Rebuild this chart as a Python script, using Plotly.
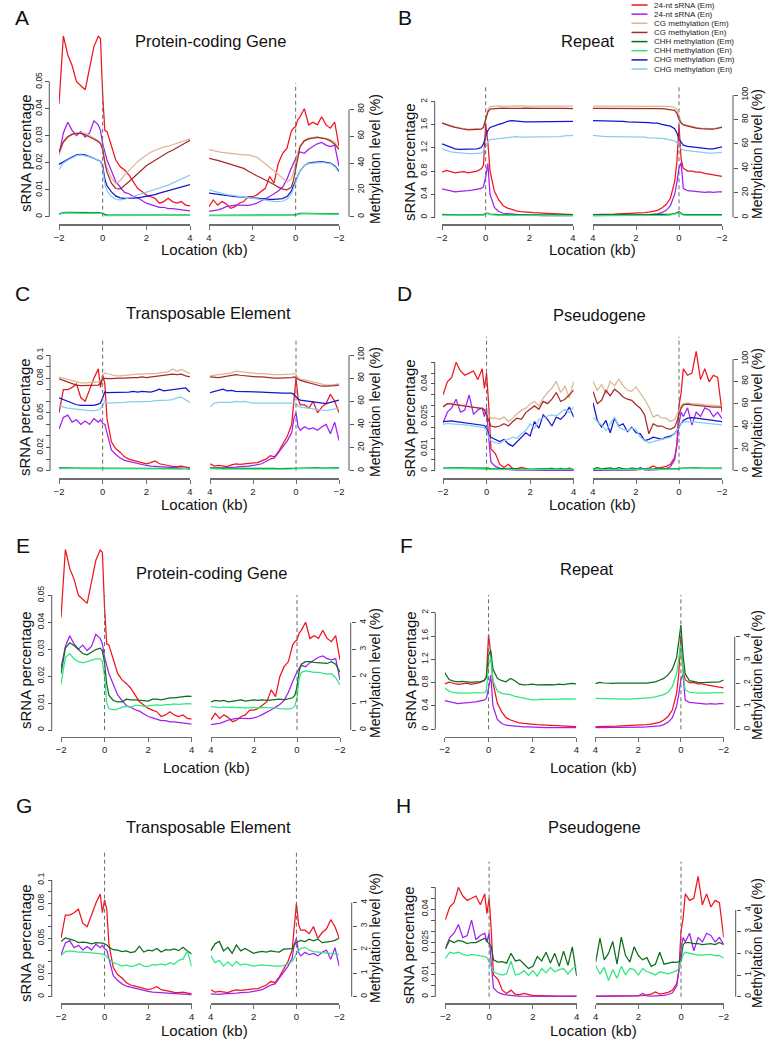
import plotly.graph_objects as go

W, H = 766, 1045
FONT = "Liberation Sans, Arial, Helvetica, sans-serif"

# ---------------- x grids (kb) ----------------
XL = [-2, -1.8, -1.6, -1.4, -1.2, -1.0, -0.8, -0.6, -0.4, -0.2, -0.1, 0, 0.1, 0.2, 0.4, 0.6, 0.8, 1.0,
      1.2, 1.4, 1.6, 1.8, 2.0, 2.2, 2.4, 2.6, 2.8, 3.0, 3.2, 3.4, 3.6, 3.8, 4.0]
XR = [4.0, 3.8, 3.6, 3.4, 3.2, 3.0, 2.8, 2.6, 2.4, 2.2, 2.0, 1.8, 1.6, 1.4, 1.2, 1.0, 0.8, 0.6, 0.4,
      0.2, 0.1, 0, -0.1, -0.2, -0.4, -0.6, -0.8, -1.0, -1.2, -1.4, -1.6, -1.8, -2.0]

# ---------------- Protein-coding gene ----------------
PC_SRNA_EM_L = [0.0418, 0.067, 0.060, 0.056, 0.050, 0.0485, 0.047, 0.055, 0.063, 0.0668, 0.066, 0.045, 0.032, 0.0315, 0.026, 0.021, 0.0186, 0.0173, 0.0155, 0.013, 0.0105, 0.0093, 0.008, 0.0074, 0.0068, 0.005, 0.0056, 0.0068, 0.0056, 0.005, 0.0056, 0.0043, 0.004]
PC_SRNA_EM_R = [0.0037, 0.0062, 0.0043, 0.0056, 0.0047, 0.0031, 0.0037, 0.005, 0.0056, 0.0074, 0.0074, 0.008, 0.0093, 0.0105, 0.0149, 0.0124, 0.0198, 0.0235, 0.0254, 0.0316, 0.0328, 0.0334, 0.036, 0.037, 0.040, 0.034, 0.035, 0.034, 0.037, 0.034, 0.0328, 0.035, 0.026]
PC_SRNA_EN_L = [0.023, 0.031, 0.035, 0.032, 0.030, 0.0315, 0.0295, 0.031, 0.0355, 0.034, 0.032, 0.027, 0.024, 0.021, 0.017, 0.013, 0.011, 0.009, 0.0085, 0.0075, 0.007, 0.006, 0.005, 0.0045, 0.004, 0.0035, 0.0035, 0.003, 0.003, 0.0028, 0.0028, 0.0024, 0.0022]
PC_SRNA_EN_R = [0.002, 0.0022, 0.0025, 0.003, 0.0037, 0.004, 0.0043, 0.0043, 0.0043, 0.0042, 0.0045, 0.005, 0.0058, 0.0065, 0.0075, 0.0085, 0.0095, 0.011, 0.014, 0.018, 0.020, 0.0215, 0.023, 0.024, 0.0235, 0.025, 0.026, 0.027, 0.0275, 0.0265, 0.026, 0.0265, 0.0186]
PC_CG_EM_L = [46, 55, 59, 61, 62, 62.5, 62, 60.5, 58.5, 56.5, 55, 52, 42, 36, 29, 24.5, 27, 31, 34.5, 38, 41, 43.5, 46, 48, 49.5, 51, 52, 52.5, 53.5, 54.5, 56, 57, 58]
PC_CG_EM_R = [50, 49, 48.5, 48, 47.5, 47, 46.5, 46.5, 46, 46, 45.5, 44.5, 42, 39.5, 37, 34, 31.5, 28.5, 26, 28, 33, 40, 48, 53, 57, 58.5, 59, 59.5, 59, 58.5, 57.5, 55.5, 51]
PC_CG_EN_L = [48, 56, 59.5, 61.5, 62, 62, 61, 59.5, 58, 56, 54.5, 50, 40, 33, 25, 21, 20.5, 23, 26, 29, 32, 35, 38, 40, 42, 44.5, 46.5, 48, 49.5, 51.5, 53.5, 55.5, 57]
PC_CG_EN_R = [43.5, 43, 42, 41, 40, 39.5, 38.5, 37.5, 36, 34, 32, 30.5, 29, 27.5, 25.5, 24, 22, 20.5, 20, 22, 27, 35, 45, 52, 56.5, 58, 58.5, 59, 58.5, 58, 56.5, 54, 50]
PC_CHG_EM_L = [39, 41, 42.5, 44.5, 46, 46.5, 46, 45, 43.5, 42, 41.5, 38, 28, 23, 18.5, 15.5, 14, 13.7, 13.7, 13.8, 14, 14.5, 15, 15.8, 16.5, 17.5, 18.5, 19.5, 20.5, 21.5, 22.5, 23.5, 24]
PC_CHG_EM_R = [17.5, 17, 16.5, 16, 15.7, 15.3, 15, 14.8, 14.5, 14.2, 14, 13.8, 13.5, 13.2, 13, 13, 13, 13.5, 15, 19, 23, 27, 31, 34, 38, 40, 40.5, 41, 41, 40.5, 40, 38, 34]
PC_CHG_EN_L = [35, 40, 42, 44, 45.5, 46, 45.5, 44.5, 43.5, 42.5, 41.5, 36, 24, 19, 15, 13, 12.5, 13, 14, 15, 16, 17, 18, 19, 20, 21, 22.5, 23.5, 25, 26.5, 28, 29.5, 31]
PC_CHG_EN_R = [20, 19, 18, 17, 16.5, 16, 15.5, 15, 14.5, 14, 13.5, 13, 12.5, 12, 11.8, 11.5, 11.2, 11.5, 13, 17, 21, 26, 30, 34, 38, 39.5, 40, 40.5, 40.5, 40, 39.5, 37.5, 33]
PC_CHH_EM_L = [2.1, 3.05, 3.25, 3.15, 3.0, 2.85, 2.8, 2.9, 3.0, 3.05, 2.95, 2.5, 1.7, 1.3, 1.1, 1.05, 1.05, 1.15, 1.12, 1.12, 1.1, 1.1, 1.08, 1.15, 1.15, 1.12, 1.17, 1.2, 1.2, 1.22, 1.22, 1.26, 1.25]
PC_CHH_EM_R = [1.05, 1.1, 1.08, 1.1, 1.05, 1.07, 1.1, 1.12, 1.08, 1.1, 1.12, 1.1, 1.12, 1.1, 1.12, 1.12, 1.15, 1.12, 1.15, 1.2, 1.3, 1.6, 2.2, 2.45, 2.55, 2.55, 2.52, 2.5, 2.5, 2.48, 2.55, 2.45, 2.15]
PC_CHH_EN_L = [1.7, 2.7, 2.85, 2.65, 2.55, 2.5, 2.55, 2.6, 2.65, 2.65, 2.55, 2.0, 1.0, 0.8, 0.75, 0.78, 0.85, 0.88, 0.85, 0.92, 0.92, 0.88, 0.9, 0.92, 0.94, 0.92, 0.95, 0.95, 0.97, 0.96, 0.98, 0.98, 0.97]
PC_CHH_EN_R = [0.87, 0.85, 0.83, 0.86, 0.84, 0.85, 0.83, 0.84, 0.82, 0.83, 0.84, 0.82, 0.84, 0.83, 0.83, 0.82, 0.8, 0.78, 0.78, 0.82, 0.9, 1.2, 1.9, 2.15, 2.2, 2.18, 2.15, 2.15, 2.12, 2.08, 2.1, 1.95, 1.68]

# ---------------- Repeat ----------------
RP_SRNA_EM_L = [0.78, 0.81, 0.79, 0.77, 0.78, 0.79, 0.77, 0.78, 0.8, 0.84, 0.9, 1.62, 1.3, 0.8, 0.45, 0.3, 0.2, 0.16, 0.13, 0.11, 0.1, 0.09, 0.085, 0.08, 0.075, 0.07, 0.065, 0.06, 0.058, 0.055, 0.05, 0.048, 0.045]
RP_SRNA_EM_R = [0.045, 0.045, 0.048, 0.05, 0.052, 0.055, 0.06, 0.062, 0.065, 0.068, 0.07, 0.075, 0.08, 0.09, 0.1, 0.12, 0.16, 0.22, 0.33, 0.62, 0.95, 1.6, 1.0, 0.85, 0.8, 0.8, 0.78, 0.78, 0.76, 0.75, 0.73, 0.72, 0.71]
RP_SRNA_EN_L = [0.49, 0.47, 0.46, 0.44, 0.45, 0.45, 0.46, 0.47, 0.48, 0.5, 0.53, 0.7, 0.93, 0.4, 0.17, 0.1, 0.07, 0.06, 0.05, 0.045, 0.04, 0.04, 0.035, 0.035, 0.03, 0.03, 0.03, 0.03, 0.028, 0.028, 0.027, 0.027, 0.027]
RP_SRNA_EN_R = [0.027, 0.027, 0.028, 0.028, 0.03, 0.03, 0.03, 0.032, 0.033, 0.035, 0.035, 0.038, 0.04, 0.045, 0.05, 0.06, 0.08, 0.12, 0.2, 0.4, 0.6, 0.85, 0.95, 0.5, 0.46, 0.45, 0.45, 0.44, 0.43, 0.44, 0.43, 0.44, 0.44]
RP_CG_EM_L = [77.5, 76, 75, 74, 73, 72.5, 72, 72, 72, 72.5, 74, 80, 88, 90.5, 91, 91.2, 91, 90.8, 91, 91.2, 91, 91, 91.2, 91, 91, 90.8, 91, 91, 91, 91.2, 91, 91, 91]
RP_CG_EM_R = [91, 91, 91.2, 91, 91, 90.8, 91, 91, 91.2, 91, 91, 91, 90.8, 91, 91, 91, 91, 90.8, 90.5, 90, 88, 82, 78, 76, 75, 74, 73.5, 73, 72.5, 72.5, 72.5, 73, 74]
RP_CG_EN_L = [77, 75.5, 74.5, 73.5, 72.5, 72, 71.5, 71.5, 71.5, 72, 73.5, 79, 86, 88.5, 89, 89, 89.2, 89, 88.8, 89, 89, 89.2, 89, 89, 88.8, 89, 89, 89.2, 89, 89, 89, 89, 88.8]
RP_CG_EN_R = [89, 89, 89, 89.2, 89, 89, 88.8, 89, 89, 89, 89.2, 89, 89, 88.8, 89, 89, 88.8, 88.5, 88, 87.5, 85, 80, 77, 75.5, 74.5, 73.5, 73, 72.5, 72, 72, 72, 72.5, 73.5]
RP_CHG_EM_L = [60, 58.5, 57, 56, 55.5, 55.5, 55.5, 55.5, 56, 57, 60, 66, 71, 73.5, 75, 76, 77, 78.5, 79, 78.5, 78.5, 78, 78, 78, 78, 78.5, 78.5, 78.5, 78.5, 78, 78.5, 78.5, 78.5]
RP_CHG_EM_R = [79, 79, 79, 78.5, 78.5, 78.5, 78.5, 78.5, 78, 78, 77.5, 78, 78, 77.5, 77, 77, 76, 75.5, 74.5, 72.5, 69, 64, 61, 59, 58, 57.5, 57, 56.5, 56, 56, 56, 56.5, 57.5]
RP_CHG_EN_L = [56, 54.5, 53.5, 53, 52.5, 52.3, 52, 52, 52, 52.5, 54, 58, 62, 63.5, 64, 64.5, 65, 65.5, 66, 66, 65.5, 65.5, 65.5, 65.5, 65.5, 66, 66, 66, 66, 66, 66.5, 67, 67]
RP_CHG_EN_R = [67, 66.5, 66.5, 66, 66, 66, 66, 65.5, 65.5, 65.5, 65.5, 65.5, 65.5, 65, 65, 65, 64.5, 64, 63.5, 62.5, 61, 58, 56, 55, 54.5, 54, 53.5, 53, 52.5, 52.5, 52.5, 52.5, 53]
RP_CHH_EM_L = [2.45, 2.15, 2.08, 2.05, 2.07, 2.05, 2.03, 2.05, 2.05, 2.1, 2.25, 3.2, 3.4, 2.6, 2.2, 2.1, 2.05, 2.2, 2.1, 1.95, 1.92, 1.93, 1.95, 1.92, 1.93, 1.95, 1.93, 1.92, 1.95, 1.93, 1.95, 1.98, 1.96]
RP_CHH_EM_R = [1.97, 2.03, 2.0, 1.98, 1.98, 1.99, 1.98, 1.98, 1.99, 1.99, 1.98, 2.0, 2.0, 2.02, 2.05, 2.12, 2.2, 2.35, 2.6, 3.1, 3.7, 4.5, 3.2, 2.4, 2.1, 2.05, 2.03, 2.02, 2.02, 2.03, 2.02, 2.05, 2.13]
RP_CHH_EN_L = [1.78, 1.65, 1.58, 1.56, 1.56, 1.56, 1.56, 1.56, 1.56, 1.58, 1.65, 2.8, 3.1, 2.1, 1.65, 1.55, 1.52, 1.5, 1.42, 1.38, 1.33, 1.28, 1.27, 1.27, 1.3, 1.29, 1.3, 1.31, 1.3, 1.3, 1.31, 1.3, 1.31]
RP_CHH_EN_R = [1.34, 1.33, 1.32, 1.31, 1.31, 1.3, 1.31, 1.3, 1.3, 1.31, 1.32, 1.33, 1.35, 1.37, 1.4, 1.45, 1.5, 1.6, 1.85, 2.4, 3.1, 3.7, 2.4, 1.7, 1.6, 1.57, 1.56, 1.56, 1.56, 1.56, 1.57, 1.58, 1.58]

# ---------------- Transposable element ----------------
TE_SRNA_EM_L = [0.05, 0.07, 0.07, 0.072, 0.075, 0.063, 0.06, 0.07, 0.08, 0.088, 0.072, 0.083, 0.075, 0.045, 0.025, 0.019, 0.016, 0.012, 0.01, 0.009, 0.008, 0.0065, 0.006, 0.007, 0.0085, 0.006, 0.005, 0.0045, 0.0038, 0.0035, 0.004, 0.003, 0.0025]
TE_SRNA_EM_R = [0.006, 0.004, 0.0045, 0.0038, 0.0035, 0.005, 0.0058, 0.0055, 0.006, 0.0065, 0.007, 0.007, 0.0085, 0.01, 0.013, 0.012, 0.017, 0.024, 0.03, 0.04, 0.06, 0.08, 0.062, 0.057, 0.057, 0.054, 0.06, 0.05, 0.055, 0.058, 0.066, 0.06, 0.05]
TE_SRNA_EN_L = [0.036, 0.046, 0.048, 0.042, 0.044, 0.04, 0.043, 0.04, 0.045, 0.042, 0.044, 0.041, 0.04, 0.032, 0.018, 0.014, 0.011, 0.009, 0.008, 0.007, 0.006, 0.0055, 0.0045, 0.004, 0.0038, 0.0035, 0.003, 0.003, 0.0025, 0.0025, 0.0022, 0.002, 0.0015]
TE_SRNA_EN_R = [0.0025, 0.002, 0.002, 0.0025, 0.0025, 0.0028, 0.003, 0.0035, 0.0035, 0.004, 0.0045, 0.005, 0.006, 0.008, 0.01, 0.011, 0.016, 0.02, 0.026, 0.033, 0.045, 0.05, 0.038, 0.035, 0.038, 0.036, 0.037, 0.035, 0.038, 0.04, 0.032, 0.042, 0.026]
TE_CG_EM_L = [81, 80, 78.5, 77.5, 76.5, 76, 76, 76, 76.5, 77, 78, 82, 84.5, 84, 83, 82, 82, 82.5, 83, 83, 83.5, 83.5, 84, 84, 84, 84.5, 85, 85.5, 88, 86, 87.5, 86, 84]
TE_CG_EM_R = [82, 82.5, 83, 83.5, 84, 84.5, 86, 85.5, 85, 84.5, 84, 84, 84, 83.5, 83, 83, 83, 83, 83, 83.5, 84, 83, 80.5, 79, 78.5, 77.5, 77, 75.5, 74.5, 74, 74, 74.5, 75]
TE_CG_EN_L = [79.5, 78, 76.5, 75, 74, 73.5, 73.5, 73.5, 73.5, 74, 75.5, 79, 80, 79.5, 79.5, 80, 80, 80, 80.5, 80.5, 80.5, 81, 80.5, 81, 81, 81.5, 82, 82.5, 83.5, 83, 83.5, 82, 81]
TE_CG_EN_R = [81, 80.5, 80.5, 81, 81.5, 82, 83, 82.5, 82, 81.5, 81, 81, 81, 80.5, 80.5, 80, 80, 80, 80, 80.5, 81, 80.5, 79, 78, 77, 76, 75.5, 74, 73, 73, 73, 73.5, 74]
TE_CHG_EM_L = [63, 61.5, 60, 58.5, 57, 56.5, 56.5, 56.5, 56.5, 57.5, 58.5, 63, 68, 67.5, 67.5, 67.5, 67.5, 68, 68, 68.5, 68, 68.5, 68.5, 68, 69, 70.5, 69, 69.5, 70, 70.5, 71, 71.5, 68]
TE_CHG_EM_R = [67.5, 68.5, 69.5, 70.5, 69, 69.5, 68.5, 68.5, 68.3, 68.3, 68, 68, 68, 67.8, 67.5, 67.5, 67, 67, 67, 67, 66, 64, 62, 61, 60.5, 60, 59.5, 58.5, 58, 58, 59, 60, 61]
TE_CHG_EN_L = [57, 55, 54, 53.5, 53, 52.5, 52, 52, 52, 52.5, 53.5, 57, 60.5, 58.5, 58.5, 59, 59, 59, 59.5, 59.5, 59.5, 60, 60, 60, 60.5, 60.5, 61, 61, 61.5, 63, 63.5, 61, 59]
TE_CHG_EN_R = [55, 58.5, 59, 59, 58.5, 59, 60, 59.5, 60, 59, 58.5, 58.5, 58.5, 58.5, 58, 58, 58, 58, 58, 58, 58.5, 58.5, 56, 55, 54.5, 54, 53.5, 52.5, 52, 52, 52.5, 53.5, 54]
TE_CHH_EM_L = [2.35, 2.5, 2.45, 2.4, 2.3, 2.32, 2.3, 2.25, 2.3, 2.3, 2.28, 2.25, 2.2, 2.1, 2.0, 1.98, 1.92, 1.95, 1.88, 1.92, 2.15, 1.9, 1.98, 1.95, 2.05, 1.9, 2.0, 1.98, 2.03, 1.96, 2.1, 1.95, 1.82]
TE_CHH_EM_R = [1.95, 2.25, 2.35, 1.95, 2.1, 1.85, 2.2, 1.95, 2.05, 1.95, 1.85, 1.9, 1.93, 1.9, 1.95, 1.92, 1.9, 2.02, 2.03, 2.05, 2.2, 2.3, 2.35, 2.4, 2.35, 2.45, 2.38, 2.45, 2.3, 2.32, 2.35, 2.4, 2.5]
TE_CHH_EN_L = [1.75, 1.92, 1.95, 1.92, 1.9, 1.9, 1.88, 1.87, 1.86, 1.85, 1.82, 1.78, 1.7, 1.6, 1.45, 1.38, 1.3, 1.35, 1.28, 1.32, 1.4, 1.3, 1.28, 1.36, 1.34, 1.4, 1.35, 1.45, 1.38, 1.55, 1.6, 1.95, 1.28]
TE_CHH_EN_R = [1.75, 1.45, 1.55, 1.3, 1.48, 1.3, 1.5, 1.35, 1.4, 1.35, 1.3, 1.33, 1.35, 1.33, 1.3, 1.3, 1.3, 1.32, 1.4, 1.5, 1.65, 1.85, 1.95, 2.05, 2.1, 1.98, 1.92, 1.9, 1.88, 1.86, 1.85, 1.84, 1.8]

# ---------------- Pseudogene ----------------
PS_SRNA_EM_L = [0.035, 0.041, 0.043, 0.05, 0.046, 0.044, 0.045, 0.046, 0.042, 0.047, 0.038, 0.045, 0.03, 0.01, 0.008, 0.003, 0.0015, 0.003, 0.001, 0.001, 0.0015, 0.001, 0.0005, 0.0005, 0.0004, 0.0004, 0.0004, 0.0003, 0.0003, 0.0003, 0.0003, 0.0003, 0.0003]
PS_SRNA_EM_R = [0.0003, 0.0003, 0.0003, 0.0003, 0.0003, 0.0003, 0.0003, 0.0003, 0.0003, 0.0004, 0.0004, 0.0005, 0.0008, 0.0012, 0.0022, 0.0012, 0.0015, 0.002, 0.003, 0.006, 0.012, 0.03, 0.036, 0.047, 0.044, 0.045, 0.055, 0.042, 0.047, 0.041, 0.044, 0.043, 0.027]
PS_SRNA_EN_L = [0.022, 0.027, 0.029, 0.033, 0.027, 0.028, 0.035, 0.026, 0.028, 0.029, 0.025, 0.029, 0.015, 0.004, 0.002, 0.0012, 0.0008, 0.0005, 0.0004, 0.0003, 0.0003, 0.0003, 0.0003, 0.0003, 0.0003, 0.0003, 0.0003, 0.0003, 0.0002, 0.0002, 0.0002, 0.0002, 0.0002]
PS_SRNA_EN_R = [0.0002, 0.0002, 0.0002, 0.0002, 0.0002, 0.0003, 0.0003, 0.0003, 0.0003, 0.0003, 0.0004, 0.0015, 0.0004, 0.0003, 0.0003, 0.0004, 0.0006, 0.001, 0.0018, 0.005, 0.012, 0.022, 0.027, 0.025, 0.029, 0.021, 0.027, 0.025, 0.029, 0.028, 0.025, 0.027, 0.024]
PS_CG_EM_L = [58, 60, 60.5, 59.5, 59, 58.5, 57.5, 57, 56.5, 56, 55, 52, 49, 47, 47, 46, 48, 44, 47, 51, 54, 56, 60, 62, 58, 65, 70, 74, 80, 70, 76, 65, 80]
PS_CG_EM_R = [80, 72, 77, 69, 80, 76, 82, 76, 72, 71, 75, 70, 64, 57, 48, 50, 47, 47, 44, 46, 50, 54, 58, 60, 60.5, 60, 60, 59.5, 59, 59, 58.5, 58, 57.5]
PS_CG_EN_L = [57, 60, 59.5, 59, 58.5, 58, 57, 56.5, 56, 55.5, 54.5, 50, 44, 40, 39, 40, 42, 40, 44, 47, 46, 52, 55, 58, 55, 62, 60, 64, 70, 62, 64, 68, 72]
PS_CG_EN_R = [71, 60, 63, 72, 67, 73, 70, 66, 64, 63, 59, 56, 50, 33, 42, 40, 40, 38, 37, 39, 44, 50, 56, 59, 59.5, 59, 58.5, 58, 57.5, 57.5, 57, 57, 57]
PS_CHG_EM_L = [44, 44.5, 44.5, 44, 43.5, 43, 42.5, 42, 41.5, 41, 40.5, 38, 32, 30, 28, 26, 28, 24, 22, 26, 30, 34, 31, 44, 38, 50, 46, 40, 48, 46, 50, 57, 48]
PS_CHG_EM_R = [61, 45, 39, 45, 34, 47, 40, 42, 35, 39, 34, 33, 27, 28, 30, 29, 28, 30, 31, 33, 36, 38, 41, 45, 47, 47.5, 47, 46.5, 46, 45.5, 45, 44.5, 44]
PS_CHG_EN_L = [41.5, 42.3, 42, 41.8, 41.2, 41, 40.5, 40, 39.5, 39, 38.5, 36, 30, 27, 25, 24.5, 27, 28, 30, 29, 33, 36, 42, 38, 46, 47, 49, 50, 49, 52, 55, 52, 57]
PS_CHG_EN_R = [48, 44, 41, 36, 42, 48, 39, 37, 36, 38, 37, 30, 27, 25, 26, 27, 28, 29, 30, 33, 36, 39, 42, 43.5, 44, 44, 43.5, 43, 42.5, 42, 41.5, 41.5, 41]
PS_CHH_EM_L = [2.2, 2.6, 2.5, 2.6, 2.55, 2.45, 2.5, 2.5, 2.6, 2.7, 2.55, 2.45, 2.3, 1.7, 1.6, 1.62, 1.55, 2.0, 1.65, 1.7, 1.5, 1.3, 1.4, 1.85, 1.65, 2.05, 1.55, 2.0, 1.4, 2.1, 1.45, 2.3, 0.95]
PS_CHH_EM_R = [1.6, 2.7, 1.7, 2.0, 2.55, 1.5, 2.75, 1.9, 1.6, 2.3, 1.9, 1.7, 1.8, 1.4, 1.5, 2.05, 1.5, 1.55, 1.6, 1.58, 1.62, 1.75, 2.4, 2.5, 2.5, 2.45, 2.45, 2.4, 2.42, 2.45, 2.4, 2.5, 2.4]
PS_CHH_EN_L = [1.75, 2.05, 2.0, 2.05, 1.95, 1.9, 1.95, 1.9, 1.88, 1.85, 1.8, 1.6, 1.35, 1.15, 1.05, 1.0, 1.05, 1.65, 1.0, 1.05, 1.2, 0.98, 1.2, 0.95, 1.3, 1.1, 1.35, 1.15, 1.25, 1.3, 1.05, 1.3, 1.38]
PS_CHH_EN_R = [1.45, 1.05, 1.35, 0.75, 1.25, 0.85, 1.4, 1.0, 1.3, 1.25, 1.0, 1.3, 1.15, 1.1, 1.0, 1.15, 1.1, 1.05, 1.12, 1.2, 1.3, 1.6, 1.95, 2.05, 2.0, 1.95, 1.92, 1.92, 1.95, 1.95, 1.9, 1.9, 1.77]

# ---------------- legend / colours ----------------
LEGEND_LABELS = ["24-nt sRNA (Em)", "24-nt sRNA (En)", "CG methylation (Em)", "CG methylation (En)",
                 "CHH methylation (Em)", "CHH methylation (En)", "CHG methylation (Em)", "CHG methylation (En)"]
C_RED, C_PURPLE, C_TAN, C_BROWN = "#F0141E", "#A020F0", "#DBB692", "#A52A2A"
C_DKGREEN, C_SPGREEN, C_BLUE, C_SKY = "#0B6E1A", "#2EE87F", "#1414D2", "#87CEEB"
LEGEND_COLORS = [C_RED, C_PURPLE, C_TAN, C_BROWN, C_DKGREEN, C_SPGREEN, C_BLUE, C_SKY]

ELEMENTS = {
    "PC": dict(srna_em=(PC_SRNA_EM_L, PC_SRNA_EM_R), srna_en=(PC_SRNA_EN_L, PC_SRNA_EN_R),
               cg_em=(PC_CG_EM_L, PC_CG_EM_R), cg_en=(PC_CG_EN_L, PC_CG_EN_R),
               chh_em=(PC_CHH_EM_L, PC_CHH_EM_R), chh_en=(PC_CHH_EN_L, PC_CHH_EN_R),
               chg_em=(PC_CHG_EM_L, PC_CHG_EM_R), chg_en=(PC_CHG_EN_L, PC_CHG_EN_R)),
    "RP": dict(srna_em=(RP_SRNA_EM_L, RP_SRNA_EM_R), srna_en=(RP_SRNA_EN_L, RP_SRNA_EN_R),
               cg_em=(RP_CG_EM_L, RP_CG_EM_R), cg_en=(RP_CG_EN_L, RP_CG_EN_R),
               chh_em=(RP_CHH_EM_L, RP_CHH_EM_R), chh_en=(RP_CHH_EN_L, RP_CHH_EN_R),
               chg_em=(RP_CHG_EM_L, RP_CHG_EM_R), chg_en=(RP_CHG_EN_L, RP_CHG_EN_R)),
    "TE": dict(srna_em=(TE_SRNA_EM_L, TE_SRNA_EM_R), srna_en=(TE_SRNA_EN_L, TE_SRNA_EN_R),
               cg_em=(TE_CG_EM_L, TE_CG_EM_R), cg_en=(TE_CG_EN_L, TE_CG_EN_R),
               chh_em=(TE_CHH_EM_L, TE_CHH_EM_R), chh_en=(TE_CHH_EN_L, TE_CHH_EN_R),
               chg_em=(TE_CHG_EM_L, TE_CHG_EM_R), chg_en=(TE_CHG_EN_L, TE_CHG_EN_R)),
    "PS": dict(srna_em=(PS_SRNA_EM_L, PS_SRNA_EM_R), srna_en=(PS_SRNA_EN_L, PS_SRNA_EN_R),
               cg_em=(PS_CG_EM_L, PS_CG_EM_R), cg_en=(PS_CG_EN_L, PS_CG_EN_R),
               chh_em=(PS_CHH_EM_L, PS_CHH_EM_R), chh_en=(PS_CHH_EN_L, PS_CHH_EN_R),
               chg_em=(PS_CHG_EM_L, PS_CHG_EM_R), chg_en=(PS_CHG_EN_L, PS_CHG_EN_R)),
}

# ---------------- tick specs ----------------
S_T_PC = ([0, 0.01, 0.02, 0.03, 0.04, 0.05], ["0", "0.01", "0.02", "0.03", "0.04", "0.05"])
S_T_RP = ([0, 0.4, 0.8, 1.2, 1.6, 2], ["0", "0.4", "0.8", "1.2", "1.6", "2"])
S_T_TE = ([round(i * 0.01, 3) for i in range(11)], ["0", "", "0.02", "", "", "0.05", "", "", "0.08", "", "0.1"])
S_T_PS = ([round(i * 0.005, 4) for i in range(11)], ["0", "", "0.01", "", "", "0.025", "", "", "0.04", "", ""])
M_T_80 = ([0, 20, 40, 60, 80], ["0", "20", "40", "60", "80"])
M_T_100 = ([0, 20, 40, 60, 80, 100], ["0", "20", "40", "60", "80", "100"])
M_T_4 = ([0, 1, 2, 3, 4], ["0", "1", "2", "3", "4"])

ALL = ["srna_em", "srna_en", "cg_em", "cg_en", "chh_em", "chh_en", "chg_em", "chg_en"]
CHH_ONLY = ["srna_em", "srna_en", "chh_em", "chh_en"]
SERIES_COLOR = dict(zip(ALL, LEGEND_COLORS))

# panel geometry in pixels (layout only)
PANELS = [
    dict(letter="A", lp=(22, 17), title="Protein-coding Gene", tp=(210, 41), elem="PC", series=ALL,
         xl=(59, 190), xr=(209, 339), base=216.7, sref=(0.05, 81.7), mref=(80, 109.3),
         st=S_T_PC, mt=M_T_80, yl=49.3, yr=349, xline=224.3, dash=(83, 216.7), dtop=28,
         slab=(25, 153), mlab=(375, 159), loc=(204, 249.5)),
    dict(letter="B", lp=(405, 17), title="Repeat", tp=(588, 41), elem="RP", series=ALL,
         xl=(442, 573), xr=(593, 722), base=217.3, sref=(2, 101.7), mref=(100, 95),
         st=S_T_RP, mt=M_T_100, yl=434.7, yr=733, xline=224.3, dash=(85, 217.3), dtop=80,
         slab=(409, 162), mlab=(757, 154), loc=(592, 249.5)),
    dict(letter="C", lp=(22, 293), title="Transposable Element", tp=(209, 313), elem="TE", series=ALL,
         xl=(59, 190), xr=(210, 339), base=470.7, sref=(0.1, 355), mref=(100, 355),
         st=S_T_TE, mt=M_T_100, yl=50, yr=349, xline=478.3, dash=(337.7, 470.7), dtop=330,
         slab=(25, 417), mlab=(375, 412), loc=(204, 505)),
    dict(letter="D", lp=(404, 293), title="Pseudogene", tp=(599, 315), elem="PS", series=ALL,
         xl=(443, 573.7), xr=(593, 722), base=470.7, sref=(0.05, 362.3), mref=(100, 359),
         st=S_T_PS, mt=M_T_100, yl=434.7, yr=733, xline=478.3, dash=(336.7, 470.7), dtop=330,
         slab=(409, 418), mlab=(757, 413), loc=(592, 505)),
    dict(letter="E", lp=(23, 545), title="Protein-coding Gene", tp=(211, 573.3), elem="PC", series=CHH_ONLY,
         xl=(61, 191.7), xr=(211, 340), base=730, sref=(0.05, 595.3), mref=(4, 622.7),
         st=S_T_PC, mt=M_T_4, yl=51.7, yr=350.7, xline=736.7, dash=(595, 730), dtop=540,
         slab=(25, 670), mlab=(375, 673), loc=(206, 767)),
    dict(letter="F", lp=(406, 545), title="Repeat", tp=(587.3, 569.3), elem="RP", series=CHH_ONLY,
         xl=(444.7, 576.3), xr=(595.3, 723.7), base=729.3, sref=(2, 612.7), mref=(4, 636.7),
         st=S_T_RP, mt=M_T_4, yl=435.3, yr=734.7, xline=736.7, dash=(595, 729.3), dtop=585,
         slab=(410, 670), mlab=(757, 675), loc=(593, 767)),
    dict(letter="G", lp=(24, 805), title="Transposable Element", tp=(209, 827.3), elem="TE", series=CHH_ONLY,
         xl=(61, 191.7), xr=(210.7, 339.3), base=996.7, sref=(0.1, 880), mref=(4, 902.7),
         st=S_T_TE, mt=M_T_4, yl=51.7, yr=351.7, xline=1003.3, dash=(852.7, 996.7), dtop=845,
         slab=(25, 943), mlab=(375, 938), loc=(204, 1030)),
    dict(letter="H", lp=(403, 805), title="Pseudogene", tp=(594, 827.3), elem="PS", series=CHH_ONLY,
         xl=(445.3, 576.7), xr=(595.7, 723.7), base=996.7, sref=(0.05, 887.3), mref=(4, 910),
         st=S_T_PS, mt=M_T_4, yl=435.3, yr=735.7, xline=1003.3, dash=(861.7, 996.7), dtop=855,
         slab=(409, 945), mlab=(757, 943), loc=(593, 1030)),
]


def fx(px):
    return px / W


def fy(py):
    return 1 - py / H


def axname(letter, n):
    return f"{letter}axis" if n == 1 else f"{letter}axis{n}"


def axref(letter, n):
    return letter if n == 1 else f"{letter}{n}"


AXIS_COL = "#555555"
TXT_COL = "#1a1a1a"

fig = go.Figure()
layout = dict(width=W, height=H, margin=dict(l=0, r=0, t=0, b=0, pad=0), autosize=False,
              paper_bgcolor="white", plot_bgcolor="rgba(0,0,0,0)", showlegend=False,
              font=dict(family=FONT, color=TXT_COL))
shapes, annotations = [], []

for i, p in enumerate(PANELS):
    xa, xb = 2 * i + 1, 2 * i + 2
    ys, ym = 2 * i + 1, 2 * i + 2
    base, dtop = p["base"], p["dtop"]
    dbot = base + 4
    common_x = dict(anchor="free", position=fy(p["xline"]), showline=True, linecolor="#6e6e6e",
                    linewidth=1.3, ticks="outside", ticklen=4, tickwidth=1, tickcolor="#6e6e6e",
                    tickfont=dict(size=9.5, family=FONT, color="#222"), showgrid=False,
                    zeroline=False, fixedrange=True, automargin=False)
    layout[axname("x", xa)] = dict(domain=[fx(p["xl"][0]), fx(p["xl"][1])], range=[-2, 4],
                                   tickvals=[-2, 0, 2, 4], ticktext=["\u22122", "0", "2", "4"], **common_x)
    layout[axname("x", xb)] = dict(domain=[fx(p["xr"][0]), fx(p["xr"][1])], range=[4, -2],
                                   tickvals=[4, 2, 0, -2], ticktext=["4", "2", "0", "\u22122"], **common_x)
    s_scale = (base - p["sref"][1]) / p["sref"][0]
    m_scale = (base - p["mref"][1]) / p["mref"][0]
    common_y = dict(anchor="free", domain=[fy(dbot), fy(dtop)], showline=False, ticks="outside",
                    ticklen=4, tickwidth=1, tickcolor=AXIS_COL, tickangle=-90,
                    tickfont=dict(size=8.5, family=FONT, color="#222"), showgrid=False,
                    zeroline=False, fixedrange=True, automargin=False)
    layout[axname("y", ys)] = dict(position=fx(p["yl"]), side="left",
                                   range=[(base - dbot) / s_scale, (base - dtop) / s_scale],
                                   tickvals=p["st"][0], ticktext=p["st"][1], **common_y)
    layout[axname("y", ym)] = dict(position=fx(p["yr"]), side="right",
                                   range=[(base - dbot) / m_scale, (base - dtop) / m_scale],
                                   tickvals=p["mt"][0], ticktext=p["mt"][1], **common_y)

    # axis spines spanning only the tick range (R style)
    shapes.append(dict(type="line", xref="paper", yref=axref("y", ys), x0=fx(p["yl"]), x1=fx(p["yl"]),
                       y0=0, y1=p["st"][0][-1], line=dict(color=AXIS_COL, width=1)))
    shapes.append(dict(type="line", xref="paper", yref=axref("y", ym), x0=fx(p["yr"]), x1=fx(p["yr"]),
                       y0=0, y1=p["mt"][0][-1], line=dict(color=AXIS_COL, width=1)))
    # dashed TSS / TES lines
    for xn in (xa, xb):
        shapes.append(dict(type="line", xref=axref("x", xn), yref="paper", x0=0, x1=0,
                           y0=fy(p["dash"][1]), y1=fy(p["dash"][0]),
                           line=dict(color="#6a6a6a", width=1, dash="4px,3px")))

    elem = ELEMENTS[p["elem"]]
    order = [k for k in p["series"] if not k.startswith("srna")] + [k for k in p["series"] if k.startswith("srna")]
    for key in order:
        left, right = elem[key]
        yid = ys if key.startswith("srna") else ym
        for xs, ys_vals, xn in ((XL, left, xa), (XR, right, xb)):
            fig.add_trace(go.Scatter(x=xs, y=ys_vals, mode="lines", xaxis=axref("x", xn),
                                     yaxis=axref("y", yid), line=dict(color=SERIES_COLOR[key], width=1.25),
                                     hoverinfo="skip", showlegend=False))

    annotations.append(dict(text=p["letter"], x=fx(p["lp"][0]), y=fy(p["lp"][1]), xref="paper", yref="paper",
                            showarrow=False, xanchor="center", yanchor="middle",
                            font=dict(size=21, family=FONT, color="#111")))
    annotations.append(dict(text=p["title"], x=fx(p["tp"][0]), y=fy(p["tp"][1]), xref="paper", yref="paper",
                            showarrow=False, xanchor="center", yanchor="middle",
                            font=dict(size=16.5, family=FONT, color="#111")))
    annotations.append(dict(text="sRNA percentage", x=fx(p["slab"][0]), y=fy(p["slab"][1]), xref="paper",
                            yref="paper", showarrow=False, textangle=-90, xanchor="center", yanchor="middle",
                            font=dict(size=15, family=FONT, color="#111")))
    annotations.append(dict(text="Methylation level (%)", x=fx(p["mlab"][0]), y=fy(p["mlab"][1]), xref="paper",
                            yref="paper", showarrow=False, textangle=-90, xanchor="center", yanchor="middle",
                            font=dict(size=14, family=FONT, color="#111")))
    annotations.append(dict(text="Location (kb)", x=fx(p["loc"][0]), y=fy(p["loc"][1]), xref="paper",
                            yref="paper", showarrow=False, xanchor="center", yanchor="middle",
                            font=dict(size=15, family=FONT, color="#111")))

# manual legend (top right)
for k, (lab, col) in enumerate(zip(LEGEND_LABELS, LEGEND_COLORS)):
    yy = 5 + 9.15 * k
    shapes.append(dict(type="line", xref="paper", yref="paper", x0=fx(631.5), x1=fx(647.5),
                       y0=fy(yy), y1=fy(yy), line=dict(color=col, width=1.5)))
    annotations.append(dict(text=lab, x=fx(651.5), y=fy(yy), xref="paper", yref="paper", showarrow=False,
                            xanchor="left", yanchor="middle", font=dict(size=8, family=FONT, color="#222")))

layout["shapes"] = shapes
layout["annotations"] = annotations
fig.update_layout(**layout)
fig.write_html("out.html", config={"displayModeBar": False, "staticPlot": True},
               post_script="document.body.style.margin='0px';")
